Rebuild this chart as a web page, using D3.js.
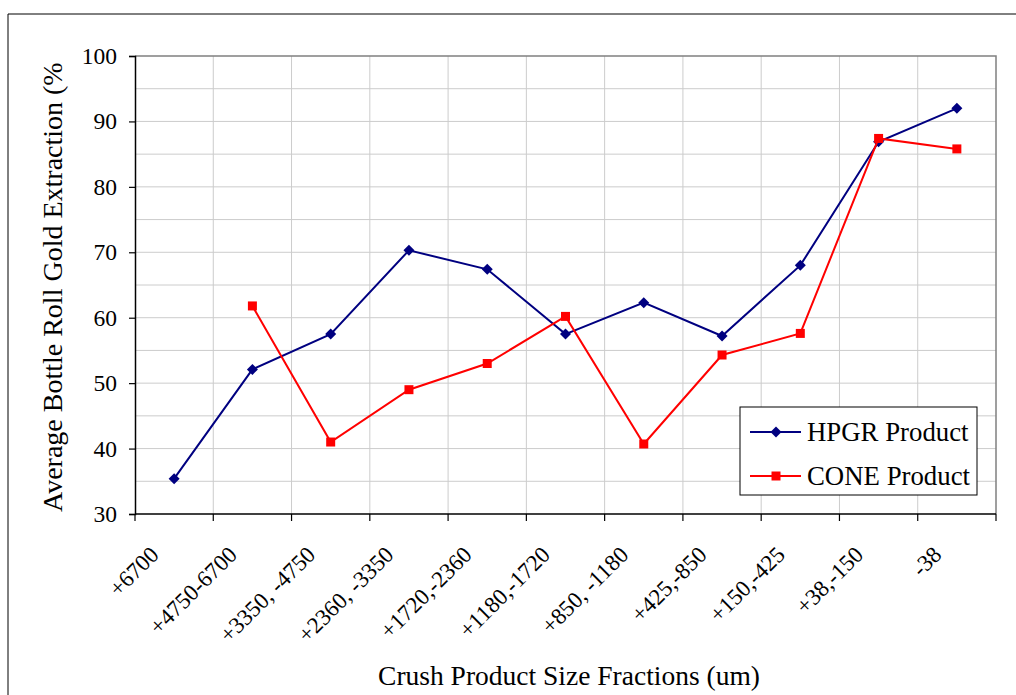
<!DOCTYPE html>
<html>
<head>
<meta charset="utf-8">
<script src="https://cdn.jsdelivr.net/npm/d3@7"></script>
<style>
  body { margin: 0; background: #fff; }
  text { font-family: "Liberation Serif", "Times New Roman", serif; fill: #000; }
</style>
</head>
<body>
<div id="wrapper"></div>
<script>
// ---------- data
const categories = ["+6700", "+4750-6700", "+3350, -4750", "+2360, -3350", "+1720,-2360",
  "+1180,-1720", "+850, -1180", "+425,-850", "+150,-425", "+38,-150", "-38"]
const hpgrValues = [35.4, 52.1, 57.5, 70.3, 67.4, 57.5, 62.3, 57.2, 68.0, 86.9, 92.0]
const coneValues = [null, 61.8, 41.0, 49.0, 53.0, 60.2, 40.7, 54.3, 57.6, 87.4, 85.8]
const yTicks = [30, 40, 50, 60, 70, 80, 90, 100]
const yGrid = [35, 40, 45, 50, 55, 60, 65, 70, 75, 80, 85, 90, 95]

const series = [
  { name: "HPGR Product", values: hpgrValues, color: "#000080", marker: "diamond" },
  { name: "CONE Product", values: coneValues, color: "#ff0000", marker: "square" }
]

// ---------- dimensions
const dimensions = {
  width: 1016,
  height: 695,
  plot: { left: 135, right: 996, top: 56, bottom: 514 }
}

const svg = d3.select("#wrapper")
  .append("svg")
  .attr("width", dimensions.width)
  .attr("height", dimensions.height)

// outer chart frame (only top and left edges visible)
svg.append("path")
  .attr("d", `M8,${dimensions.height} V14 H${dimensions.width}`)
  .attr("fill", "none")
  .attr("stroke", "#000")
  .attr("stroke-width", 1)

// ---------- scales
const xScale = d3.scaleBand()
  .domain(categories)
  .range([dimensions.plot.left, dimensions.plot.right])
  .padding(0)

const yScale = d3.scaleLinear()
  .domain([30, 100])
  .range([dimensions.plot.bottom, dimensions.plot.top])

const xCenter = c => xScale(c) + xScale.bandwidth() / 2
const boundaries = categories.map(c => xScale(c)).concat([dimensions.plot.right])

// ---------- gridlines
const grid = svg.append("g")
grid.selectAll(".hgrid")
  .data(yGrid)
  .join("line")
  .attr("x1", dimensions.plot.left)
  .attr("x2", dimensions.plot.right)
  .attr("y1", d => yScale(d))
  .attr("y2", d => yScale(d))
  .attr("stroke", "#cccccc")
  .attr("stroke-width", 1)

grid.selectAll(".vgrid")
  .data(boundaries.slice(1, -1))
  .join("line")
  .attr("x1", d => d)
  .attr("x2", d => d)
  .attr("y1", dimensions.plot.top)
  .attr("y2", dimensions.plot.bottom)
  .attr("stroke", "#cccccc")
  .attr("stroke-width", 1)

// top/right plot border
svg.append("path")
  .attr("d", `M${dimensions.plot.left},${dimensions.plot.top} H${dimensions.plot.right} V${dimensions.plot.bottom}`)
  .attr("fill", "none")
  .attr("stroke", "#808080")
  .attr("stroke-width", 1.5)

// ---------- axes
const yAxis = svg.append("g")
  .attr("transform", `translate(${dimensions.plot.left},0)`)
  .call(d3.axisLeft(yScale).tickValues(yTicks).tickSize(6).tickPadding(12))
yAxis.select(".domain").attr("stroke", "#000").attr("stroke-width", 1.5)
yAxis.selectAll(".tick line").attr("stroke", "#000").attr("stroke-width", 1.2)
yAxis.selectAll(".tick text")
  .attr("font-size", 23.5)
  .attr("font-family", "Liberation Serif")
  .attr("fill", "#000")

const xAxis = svg.append("g")
  .attr("transform", `translate(0,${dimensions.plot.bottom})`)
xAxis.append("line")
  .attr("x1", dimensions.plot.left)
  .attr("x2", dimensions.plot.right)
  .attr("stroke", "#000")
  .attr("stroke-width", 1.5)
xAxis.selectAll(".xtick")
  .data(boundaries)
  .join("line")
  .attr("x1", d => d)
  .attr("x2", d => d)
  .attr("y1", 0)
  .attr("y2", 7)
  .attr("stroke", "#000")
  .attr("stroke-width", 1.2)

svg.append("g").selectAll("text")
  .data(categories)
  .join("text")
  .attr("transform", d => `translate(${xCenter(d) - 14},556) rotate(-45)`)
  .attr("text-anchor", "end")
  .attr("font-size", 23)
  .text(d => d)

// axis titles
svg.append("text")
  .attr("x", 569)
  .attr("y", 685)
  .attr("text-anchor", "middle")
  .attr("font-size", 27.5)
  .text("Crush Product Size Fractions (um)")

svg.append("clipPath")
  .attr("id", "ytitle-clip")
  .append("rect")
  .attr("x", 0).attr("y", 63)
  .attr("width", 130).attr("height", 600)

svg.append("g")
  .attr("clip-path", "url(#ytitle-clip)")
  .append("text")
  .attr("transform", "translate(62,512) rotate(-90)")
  .attr("text-anchor", "start")
  .attr("font-size", 28)
  .text("Average Bottle Roll Gold Extraction (%)")

// ---------- lines and markers
const lineGen = d3.line()
  .defined(d => d.v !== null)
  .x(d => xCenter(d.c))
  .y(d => yScale(d.v))

const markerPath = (type, x, y) => type === "diamond"
  ? `M${x},${y - 5.5} L${x + 5.5},${y} L${x},${y + 5.5} L${x - 5.5},${y} Z`
  : `M${x - 4.5},${y - 4.5} h9 v9 h-9 Z`

series.forEach(s => {
  const pts = categories.map((c, i) => ({ c: c, v: s.values[i] }))
  svg.append("path")
    .datum(pts)
    .attr("d", lineGen)
    .attr("fill", "none")
    .attr("stroke", s.color)
    .attr("stroke-width", 2)

  svg.append("g").selectAll("path")
    .data(pts.filter(d => d.v !== null))
    .join("path")
    .attr("d", d => markerPath(s.marker, xCenter(d.c), yScale(d.v)))
    .attr("fill", s.color)
})

// ---------- legend
const legend = svg.append("g").attr("transform", "translate(740,407)")
legend.append("rect")
  .attr("width", 237)
  .attr("height", 88)
  .attr("fill", "#fff")
  .attr("stroke", "#000")
  .attr("stroke-width", 1)

series.forEach((s, i) => {
  const y = 25 + i * 44
  legend.append("line")
    .attr("x1", 10).attr("x2", 61)
    .attr("y1", y).attr("y2", y)
    .attr("stroke", s.color)
    .attr("stroke-width", 2)
  legend.append("path")
    .attr("d", markerPath(s.marker, 36, y))
    .attr("fill", s.color)
  legend.append("text")
    .attr("x", 67)
    .attr("y", y + 9)
    .attr("font-size", 26.8)
    .text(s.name)
})
</script>
</body>
</html>
